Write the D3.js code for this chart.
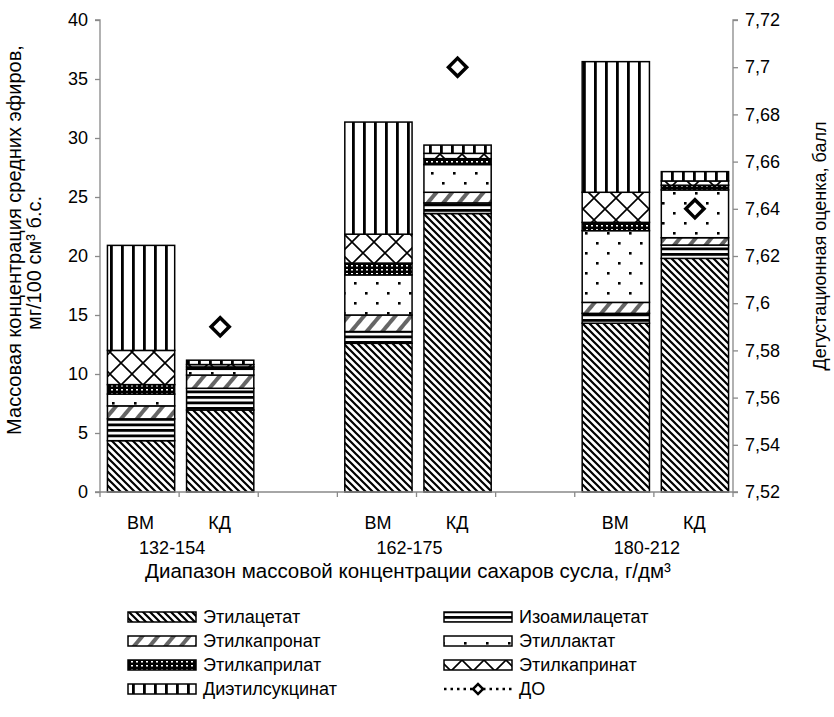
<!DOCTYPE html>
<html><head><meta charset="utf-8">
<script src="https://cdn.jsdelivr.net/npm/d3@7"></script>
<style>body{margin:0;background:#fff;} svg{display:block;font-family:"Liberation Sans",Arial,sans-serif;}</style>
</head><body><svg id="c" width="834" height="717"></svg>
<script>
// ---- data ----
const categories = ["ВМ1","КД1","gap1","ВМ2","КД2","gap2","ВМ3","КД3"];
const categoryLabels = ["ВМ","КД","","ВМ","КД","","ВМ","КД"];
const groupLabels = ["132-154","162-175","180-212"];
const groupMembers = [["ВМ1","КД1"],["ВМ2","КД2"],["ВМ3","КД3"]];
const seriesNames = ["Этилацетат","Изоамилацетат","Этилкапронат","Этиллактат","Этилкаприлат","Этилкапринат","Диэтилсукцинат"];
const ethylAcetate   = [4.35, 6.95, null, 12.6, 23.6, null, 14.3, 19.8];
const isoamylAcetate = [1.85, 1.84, null, 1.0, 0.9, null, 0.84, 1.13];
const ethylCaproate  = [1.1, 1.12, null, 1.4, 0.9, null, 0.93, 0.62];
const ethylLactate   = [1.0, 0.49, null, 3.4, 2.35, null, 6.08, 4.05];
const ethylCaprylate = [0.8, 0.2, null, 1.0, 0.5, null, 0.7, 0.4];
const ethylCaprate   = [2.9, 0.2, null, 2.45, 0.45, null, 2.55, 0.36];
const diethylSuccinate = [8.9, 0.37, null, 9.5, 0.7, null, 11.07, 0.79];
const tastingScore   = [null, 7.59, null, null, 7.70, null, null, 7.64];
const leftTicks = [0,5,10,15,20,25,30,35,40];
const rightTicks = [7.52,7.54,7.56,7.58,7.6,7.62,7.64,7.66,7.68,7.7,7.72];
const yTitle1 = "Массовая концентрация средних эфиров,";
const yTitle2 = "мг/100 см³ б.с.";
const y2Title = "Дегустационная оценка, балл";
const xTitle = "Диапазон массовой концентрации сахаров сусла, г/дм³";
const lineName = "ДО";

const seriesValues = [ethylAcetate, isoamylAcetate, ethylCaproate, ethylLactate, ethylCaprylate, ethylCaprate, diethylSuccinate];

// ---- layout ----
const svg = d3.select("#c");
const L = 100, R = 733, T = 20, B = 492;
const axisGray = "#898989";
const x = d3.scaleBand().domain(categories).range([L, R]).padding(0);
const y = d3.scaleLinear().domain([0, 40]).range([B, T]);
const y2 = d3.scaleLinear().domain([7.52, 7.72]).range([B, T]);
const barW = x.bandwidth() * 0.85;
const barOff = 1.5;

// ---- patterns ----
const defs = svg.append("defs");
function pat(id, w, h, build, transform) {
  const p = defs.append("pattern").attr("id", id).attr("patternUnits", "userSpaceOnUse")
    .attr("width", w).attr("height", h);
  if (transform) p.attr("patternTransform", transform);
  p.append("rect").attr("width", w).attr("height", h).attr("fill", "#fff");
  build(p);
}
pat("p0", 7, 7, p => p.append("path").attr("d", "M0,0L7,7M-1,6L1,8M6,-1L8,1").attr("stroke", "#000").attr("stroke-width", 2.2));
pat("p1", 8, 5.5, p => p.append("rect").attr("y", 0).attr("width", 8).attr("height", 2.8).attr("fill", "#000"));
pat("p2", 12, 12, p => p.append("rect").attr("x", 0).attr("width", 4).attr("height", 12).attr("fill", "#666"), "rotate(40)");
pat("p3", 22, 20, p => {
  p.append("rect").attr("x", 2).attr("y", 2).attr("width", 2.6).attr("height", 2.6).attr("fill", "#000");
  p.append("rect").attr("x", 13).attr("y", 12).attr("width", 2.6).attr("height", 2.6).attr("fill", "#000");
});
pat("p4", 5, 4, p => {
  p.select("rect").attr("fill", "#000");
  p.append("rect").attr("x", 1).attr("y", 1).attr("width", 2).attr("height", 1.5).attr("fill", "#fff");
});
pat("p5", 22, 22, p => p.append("path").attr("d", "M0,0L22,22M22,0L0,22").attr("stroke", "#000").attr("stroke-width", 1.6));
pat("p6", 11, 10, p => p.append("rect").attr("x", 0).attr("width", 2.8).attr("height", 10).attr("fill", "#000"));

// ---- stacked bars ----
const rows = categories.map((c, i) => {
  const o = { cat: c };
  seriesNames.forEach((s, k) => o[s] = seriesValues[k][i] == null ? 0 : seriesValues[k][i]);
  return o;
});
const stacked = d3.stack().keys(seriesNames)(rows);
const gBars = svg.append("g");
stacked.forEach((layer, k) => {
  gBars.selectAll(null).data(layer.filter(d => d[1] - d[0] > 0)).enter().append("rect")
    .attr("x", d => x(d.data.cat) + (x.bandwidth() - barW) / 2 + barOff)
    .attr("width", barW)
    .attr("y", d => y(d[1]))
    .attr("height", d => y(d[0]) - y(d[1]))
    .attr("fill", `url(#p${k})`)
    .attr("stroke", "#000").attr("stroke-width", 1.5);
});

// ---- axes ----
const axL = svg.append("g").attr("transform", `translate(${L},0)`)
  .call(d3.axisLeft(y).tickValues(leftTicks).tickSize(5).tickPadding(7).tickFormat(d3.format("d")));
const axR = svg.append("g").attr("transform", `translate(${R},0)`)
  .call(d3.axisRight(y2).tickValues(rightTicks).tickSize(5).tickPadding(7)
    .tickFormat(d => String(+d.toFixed(2)).replace(".", ",")));
[axL, axR].forEach(a => {
  a.selectAll("path,line").attr("stroke", axisGray).attr("stroke-width", 1.3);
  a.select(".domain").attr("d", a === axL ? `M-5,${T}H0V${B}H-5` : `M5,${T}H0V${B}H5`);
  a.selectAll("text").attr("font-size", 18).attr("fill", "#000").attr("font-family", "Liberation Sans, Arial, sans-serif");
});
const gx = svg.append("g");
gx.append("line").attr("x1", L).attr("x2", R).attr("y1", B).attr("y2", B).attr("stroke", axisGray).attr("stroke-width", 1.3);
const bounds = categories.map(c => x(c)).concat([x(categories[categories.length - 1]) + x.step()]);
gx.selectAll(null).data(bounds).enter().append("line")
  .attr("x1", d => d).attr("x2", d => d).attr("y1", B).attr("y2", B + 5)
  .attr("stroke", axisGray).attr("stroke-width", 1.3);
gx.selectAll(null).data(categories).enter().append("text")
  .attr("x", d => x(d) + x.bandwidth() / 2 + 1).attr("y", 529)
  .attr("text-anchor", "middle").attr("font-size", 18)
  .text((d, i) => categoryLabels[i]);
gx.selectAll(null).data(groupLabels).enter().append("text")
  .attr("x", (d, i) => (x(groupMembers[i][0]) + x(groupMembers[i][1]) + x.bandwidth()) / 2 - 7)
  .attr("y", 554).attr("text-anchor", "middle").attr("font-size", 18).text(d => d);
svg.append("text").attr("x", 408).attr("y", 578).attr("text-anchor", "middle").attr("font-size", 20.5).text(xTitle);

svg.append("text").attr("transform", "translate(21,240) rotate(-90)").attr("text-anchor", "middle").attr("font-size", 20).text(yTitle1);
svg.append("text").attr("transform", "translate(41,263) rotate(-90)").attr("text-anchor", "middle").attr("font-size", 20).text(yTitle2);
svg.append("text").attr("transform", "translate(826,246) rotate(-90)").attr("text-anchor", "middle").attr("font-size", 18).text(y2Title);

// ---- DO markers ----
const diamond = d3.symbol().type(d3.symbolSquare).size(165)();
svg.append("g").selectAll(null)
  .data(categories.map((c, i) => ({ c, v: tastingScore[i] })).filter(d => d.v != null))
  .enter().append("path")
  .attr("d", diamond)
  .attr("transform", d => `translate(${x(d.c) + x.bandwidth() / 2 + barOff},${y2(d.v)}) rotate(45)`)
  .attr("fill", "#fff").attr("stroke", "#000").attr("stroke-width", 3.5);

// ---- legend ----
const legX = [128, 444], legY = [617, 641, 665, 689];
const legendItems = seriesNames.map((s, k) => ({ name: s, k })).concat([{ name: lineName, k: -1 }]);
const gl = svg.append("g");
legendItems.forEach((it, i) => {
  const lx = legX[i % 2], ly = legY[Math.floor(i / 2)];
  if (it.k >= 0) {
    gl.append("rect").attr("x", lx).attr("y", ly - 5).attr("width", 68).attr("height", 10)
      .attr("fill", `url(#p${it.k})`).attr("stroke", "#000").attr("stroke-width", 1.5);
  } else {
    gl.append("line").attr("x1", lx).attr("x2", lx + 68).attr("y1", ly).attr("y2", ly)
      .attr("stroke", "#000").attr("stroke-width", 2.5).attr("stroke-dasharray", "2.5,4");
    gl.append("path").attr("d", d3.symbol().type(d3.symbolSquare).size(50)())
      .attr("transform", `translate(${lx + 34},${ly}) rotate(45)`)
      .attr("fill", "#fff").attr("stroke", "#000").attr("stroke-width", 2.5);
  }
  gl.append("text").attr("x", lx + 75).attr("y", ly + 6).attr("font-size", 18).text(it.name);
});
</script></body></html>
